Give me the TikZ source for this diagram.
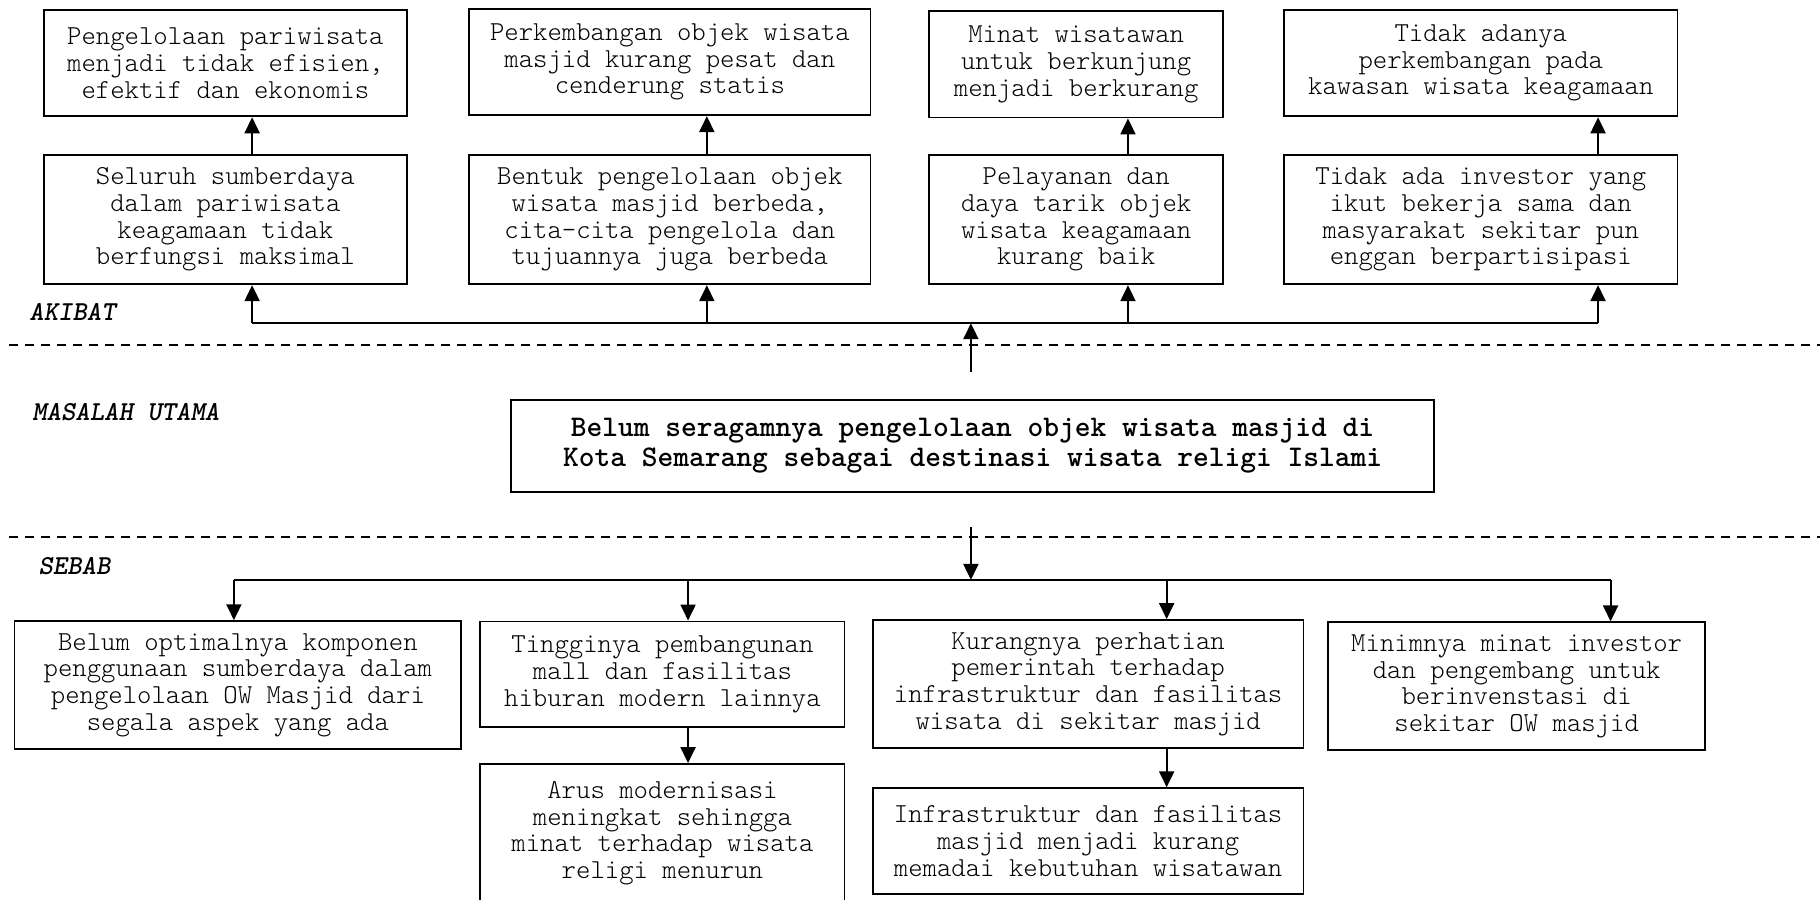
\documentclass[tikz,border=0pt]{standalone}
\usepackage{fontspec}
\setmonofont{lmmonolt10-regular.otf}[BoldFont=lmmonolt10-bold.otf, ItalicFont=lmmonolt10-oblique.otf, BoldItalicFont=lmmonolt10-boldoblique.otf]
\usetikzlibrary{arrows.meta, positioning}

\begin{document}
\begin{tikzpicture}[
    >={Triangle[length=8pt, width=7.5pt]},
    box/.style={draw, line width=0.9pt, align=center, inner sep=2pt, font=\ttfamily\fontsize{13.7}{13.35}\selectfont},
    mainbox/.style={box, font=\ttfamily\bfseries\fontsize{15}{15}\selectfont},
    arr/.style={->, line width=1pt},
    busline/.style={line width=1pt},
    sepline/.style={line width=0.8pt, dash pattern=on 4.5pt off 3.5pt},
    labelstyle/.style={anchor=west, inner sep=0pt, font=\ttfamily\bfseries\itshape\fontsize{13.7}{13}\selectfont},
]
\useasboundingbox (0,0) rectangle (31.98,15.80);

% ============ AKIBAT ============
\node[labelstyle] (lbl_akibat) at (0.51, 10.32) {AKIBAT};

\node[box, minimum width=6.37cm, minimum height=1.87cm] (ak1_top) at (3.96, 14.69) {Pengelolaan pariwisata\\menjadi tidak efisien,\\efektif dan ekonomis};
\node[box, minimum width=7.05cm, minimum height=1.87cm] (ak2_top) at (11.77, 14.71) {Perkembangan objek wisata\\masjid kurang pesat dan\\cenderung statis};
\node[box, minimum width=5.17cm, minimum height=1.87cm] (ak3_top) at (18.91, 14.67) {Minat wisatawan\\untuk berkunjung\\menjadi berkurang};
\node[box, minimum width=6.91cm, minimum height=1.87cm] (ak4_top) at (26.02, 14.69) {Tidak adanya\\perkembangan pada\\kawasan wisata keagamaan};

\node[box, minimum width=6.37cm, minimum height=2.27cm] (ak1) at (3.96, 11.94) {Seluruh sumberdaya\\dalam pariwisata\\keagamaan tidak\\berfungsi maksimal};
\node[box, minimum width=7.05cm, minimum height=2.27cm] (ak2) at (11.77, 11.94) {Bentuk pengelolaan objek\\wisata masjid berbeda,\\cita-cita pengelola dan\\tujuannya juga berbeda};
\node[box, minimum width=5.17cm, minimum height=2.27cm] (ak3) at (18.91, 11.94) {Pelayanan dan\\daya tarik objek\\wisata keagamaan\\kurang baik};
\node[box, minimum width=6.91cm, minimum height=2.27cm] (ak4) at (26.02, 11.94) {Tidak ada investor yang\\ikut bekerja sama dan\\masyarakat sekitar pun\\enggan berpartisipasi};

\coordinate (ta) at (4.43, 10.12);
\coordinate (tb) at (12.42, 10.12);
\coordinate (tc) at (19.82, 10.12);
\coordinate (td) at (28.08, 10.12);

\draw[busline] (ta) -- (td);
\draw[arr] (ta) -- (ta |- ak1.south);
\draw[arr] (tb) -- (tb |- ak2.south);
\draw[arr] (tc) -- (tc |- ak3.south);
\draw[arr] (td) -- (td |- ak4.south);
\draw[arr] (ta |- ak1.north) -- (ta |- ak1_top.south);
\draw[arr] (tb |- ak2.north) -- (tb |- ak2_top.south);
\draw[arr] (tc |- ak3.north) -- (tc |- ak3_top.south);
\draw[arr] (td |- ak4.north) -- (td |- ak4_top.south);

% ============ MASALAH UTAMA ============
\coordinate (sep1_l) at (0.15, 9.74);
\coordinate (sep1_r) at (31.98, 9.74);
\draw[sepline] (sep1_l) -- (sep1_r);

\node[labelstyle] (lbl_masalah) at (0.56, 8.56) {MASALAH UTAMA};

\node[mainbox, minimum width=16.21cm, minimum height=1.62cm] (main) at (17.09, 7.96) {Belum seragamnya pengelolaan objek wisata masjid di\\Kota Semarang sebagai destinasi wisata religi Islami};

\coordinate (up0) at (17.06, 9.26);
\draw[arr] (up0) -- (up0 |- ta);

\coordinate (sep2_l) at (0.15, 6.36);
\coordinate (sep2_r) at (31.98, 6.36);
\draw[sepline] (sep2_l) -- (sep2_r);

% ============ SEBAB ============
\node[labelstyle] (lbl_sebab) at (0.67, 5.85) {SEBAB};

\coordinate (ba) at (4.11, 5.61);
\coordinate (bb) at (12.09, 5.61);
\coordinate (bc) at (20.50, 5.61);
\coordinate (bd) at (28.30, 5.61);

\coordinate (dn0) at (17.06, 6.54);
\draw[arr] (dn0) -- (dn0 |- ba);
\draw[busline] (ba) -- (bd);

\node[box, minimum width=7.85cm, minimum height=2.25cm] (sb1) at (4.18, 3.76) {Belum optimalnya komponen\\penggunaan sumberdaya dalam\\pengelolaan OW Masjid dari\\segala aspek yang ada};
\node[box, minimum width=6.40cm, minimum height=1.86cm] (sb2) at (11.64, 3.95) {Tingginya pembangunan\\mall dan fasilitas\\hiburan modern lainnya};
\node[box, minimum width=6.40cm, minimum height=2.43cm] (sb2_bawah) at (11.64, 1.16) {Arus modernisasi\\meningkat sehingga\\minat terhadap wisata\\religi menurun};
\node[box, minimum width=7.57cm, minimum height=2.25cm] (sb3) at (19.12, 3.78) {Kurangnya perhatian\\pemerintah terhadap\\infrastruktur dan fasilitas\\wisata di sekitar masjid};
\node[box, minimum width=7.57cm, minimum height=1.86cm] (sb3_bawah) at (19.12, 1.02) {Infrastruktur dan fasilitas\\masjid menjadi kurang\\memadai kebutuhan wisatawan};
\node[box, minimum width=6.63cm, minimum height=2.25cm] (sb4) at (26.65, 3.74) {Minimnya minat investor\\dan pengembang untuk\\berinvenstasi di\\sekitar OW masjid};

\draw[arr] (ba) -- (ba |- sb1.north);
\draw[arr] (bb) -- (bb |- sb2.north);
\draw[arr] (bc) -- (bc |- sb3.north);
\draw[arr] (bd) -- (bd |- sb4.north);
\draw[arr] (bb |- sb2.south) -- (bb |- sb2_bawah.north);
\draw[arr] (bc |- sb3.south) -- (bc |- sb3_bawah.north);

\end{tikzpicture}
\end{document}
